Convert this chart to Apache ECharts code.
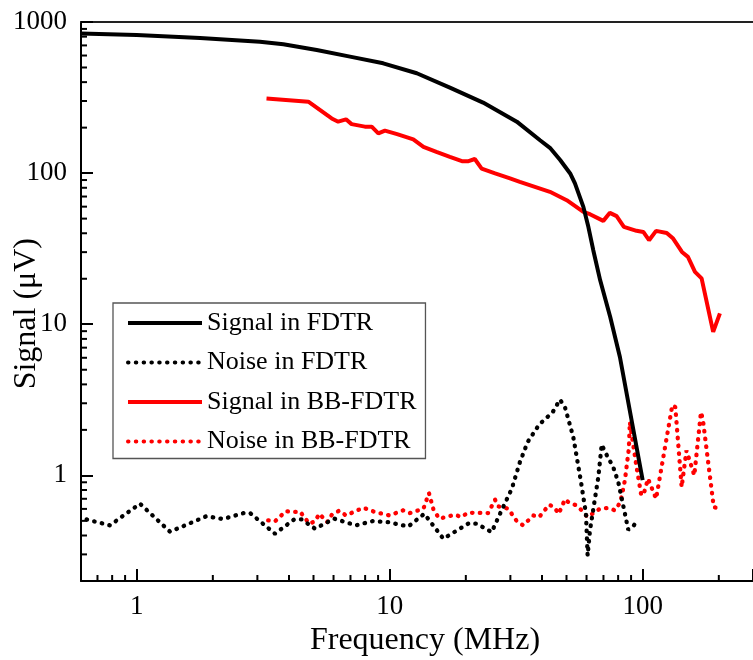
<!DOCTYPE html>
<html>
<head>
<meta charset="utf-8">
<script src="https://cdn.jsdelivr.net/npm/echarts@6/dist/echarts.min.js"></script>
<style>
  html, body { margin: 0; padding: 0; background: #fff; }
  #chart { width: 753px; height: 660px; }
</style>
</head>
<body>
<div id="chart"></div>
<script>
// FDTR signal (black solid)
var fdtrSignalFreq = [0.6, 1, 1.78, 3.07, 3.80, 5.15, 6.97, 9.43, 12.8, 17.3, 23.4, 31.8, 39.3, 43.0, 47.2, 51.7, 54.0, 58.3, 61.0, 63.8, 67.9, 74.4, 81.3, 100];
var fdtrSignal = [840, 820, 784, 741, 712, 653, 590, 533, 458, 368, 293, 219, 165, 147, 122, 99.5, 85.5, 59.8, 44.1, 30.9, 19.6, 11.2, 6.07, 0.93];

// FDTR noise (black dotted)
var fdtrNoiseFreq = [0.634, 0.784, 1.03, 1.354, 1.89, 2.19, 2.68, 2.82, 3.52, 4.19, 4.49, 5.07, 6.04, 7.36, 8.57, 9.87, 11.85, 13.7, 16.3, 20.6, 22.1, 25.3, 27.5, 30.4, 32.7, 35.1, 39.0, 44.1, 47.1, 49.3, 53.2, 56.9, 59.7, 60.6, 61.9, 66.8, 68.9, 71.0, 76.5, 80.1, 85.1, 87.7, 91.8, 95.2];
var fdtrNoise = [0.511, 0.467, 0.650, 0.424, 0.537, 0.514, 0.566, 0.560, 0.411, 0.511, 0.511, 0.444, 0.517, 0.467, 0.498, 0.490, 0.459, 0.557, 0.381, 0.483, 0.479, 0.421, 0.572, 0.816, 1.22, 1.66, 2.17, 2.62, 3.17, 2.83, 1.79, 0.93, 0.557, 0.295, 0.432, 0.974, 1.60, 1.43, 1.135, 0.903, 0.558, 0.437, 0.460, 0.504];

// BB-FDTR signal (red solid)
var bbSignalFreq = [3.26, 4.77, 5.90, 6.26, 6.72, 7.07, 7.98, 8.49, 9.02, 9.58, 10.7, 12.4, 13.6, 15.3, 17.3, 19.3, 20.5, 21.7, 23.1, 26.1, 29.9, 32.7, 43.0, 50.1, 58.3, 61.9, 69.9, 74.2, 78.9, 84.3, 94.6, 100.6, 106, 113, 124.5, 132, 143, 151, 161, 171, 190, 202];
var bbSignal = [312, 297, 230, 219, 227, 211, 203, 203, 183, 191, 181, 167, 149, 138, 128, 120, 120, 124, 107, 99.5, 92.2, 87.5, 75.2, 66.2, 55.4, 53.5, 48.3, 54.6, 51.9, 44.1, 41.5, 40.8, 36.0, 41.5, 40.2, 36.9, 30.1, 27.9, 22.2, 20.1, 8.9, 11.8];

// BB-FDTR noise (red dotted)
var bbNoiseFreq = [3.31, 3.52, 3.89, 4.16, 4.42, 4.81, 5.07, 5.27, 5.66, 5.91, 6.32, 6.72, 7.86, 8.75, 10.0, 11.3, 12.0, 13.6, 14.3, 14.9, 15.7, 18.1, 19.2, 20.4, 24.5, 26.1, 26.9, 29.4, 31.8, 33.7, 37.0, 39.0, 42.7, 44.6, 46.6, 49.3, 51.4, 54.8, 57.1, 60.6, 67.8, 73.0, 77.7, 80.9, 82.5, 85.1, 86.5, 88.2, 89.0, 94.8, 98.5, 100.6, 105, 113, 131, 134.6, 142.6, 149, 151, 160, 170, 173, 191, 201];
var bbNoise = [0.504, 0.496, 0.580, 0.572, 0.577, 0.479, 0.496, 0.557, 0.490, 0.549, 0.584, 0.543, 0.611, 0.572, 0.543, 0.587, 0.563, 0.602, 0.764, 0.593, 0.517, 0.549, 0.530, 0.566, 0.563, 0.690, 0.623, 0.602, 0.498, 0.467, 0.543, 0.530, 0.640, 0.617, 0.557, 0.694, 0.656, 0.633, 0.592, 0.530, 0.602, 0.608, 0.587, 0.649, 0.718, 0.93, 1.16, 1.50, 2.25, 1.11, 0.757, 0.737, 0.95, 0.70, 2.91, 2.83, 0.837, 1.46, 1.44, 1.0, 2.62, 2.34, 0.617, 0.602];

var seriesNames = ['Signal in FDTR', 'Noise in FDTR', 'Signal in BB-FDTR', 'Noise in BB-FDTR'];

// axis range and minor tick values
var xMin = 0.6025, xMax = 273;
var yMin = 0.2, yMax = 1000;
var xMinorTicks = [0.7, 0.8, 0.9, 2, 3, 4, 5, 6, 7, 8, 9, 20, 30, 40, 50, 60, 70, 80, 90, 200];
var yMinorTicks = [0.3, 0.4, 0.5, 0.6, 0.7, 0.8, 0.9, 2, 3, 4, 5, 6, 7, 8, 9, 20, 30, 40, 50, 60, 70, 80, 90, 200, 300, 400, 500, 600, 700, 800, 900];

function pairs(xs, ys) {
    return xs.map(function (x, i) {
        return [x, ys[i]];
    });
}

var serif = 'Liberation Serif, Times New Roman, serif';

function decadeLabel(v) {
    var l = Math.log10(v);
    return Math.abs(l - Math.round(l)) < 1e-6 ? String(Math.round(v)) : '';
}

var chart = echarts.init(document.getElementById('chart'));

chart.setOption({
    animation: false,
    backgroundColor: '#fff',
    textStyle: { fontFamily: serif },
    grid: { left: 81, right: 0, top: 22, bottom: 79, containLabel: false, outerBoundsMode: 'none' },
    legend: {
        data: seriesNames,
        orient: 'vertical',
        left: 113,
        top: 303,
        padding: [7, 9, 4, 13],
        itemGap: 13.5,
        itemWidth: 74,
        itemHeight: 1,
        borderColor: '#555',
        borderWidth: 1.3,
        selectedMode: false,
        itemStyle: { opacity: 0 },
        lineStyle: { width: 4 },
        textStyle: { fontFamily: serif, fontSize: 26, color: '#000', lineHeight: 26 }
    },
    // y axis title, placed a little below the axis middle as in the source figure
    graphic: [{
        type: 'text',
        left: 11,
        top: 238,
        rotation: Math.PI / 2,
        style: { text: 'Signal (μV)', font: '32px ' + serif, fill: '#000' }
    }],
    xAxis: [{
        type: 'log',
        logBase: 10,
        min: xMin,
        max: xMax,
        name: 'Frequency (MHz)',
        nameLocation: 'middle',
        nameGap: 39,
        nameTextStyle: { fontFamily: serif, fontSize: 32, color: '#000', padding: [0, 0, 0, 16] },
        axisLine: { lineStyle: { color: '#000', width: 2 } },
        axisTick: { inside: true, length: 12, lineStyle: { color: '#000', width: 2 } },
        axisLabel: { fontFamily: serif, fontSize: 27, color: '#000', margin: 12, formatter: decadeLabel },
        splitLine: { show: false }
    }, {
        // top frame line
        type: 'log',
        position: 'top',
        min: xMin,
        max: xMax,
        axisLine: { lineStyle: { color: '#222', width: 2 } },
        axisTick: { show: false },
        axisLabel: { show: false },
        splitLine: { show: false }
    }],
    yAxis: {
        type: 'log',
        logBase: 10,
        min: yMin,
        max: yMax,
        axisLine: { show: true, lineStyle: { color: '#000', width: 2 } },
        axisTick: { inside: true, length: 12, lineStyle: { color: '#000', width: 2 } },
        axisLabel: { fontFamily: serif, fontSize: 27, color: '#000', margin: 14, formatter: decadeLabel },
        splitLine: { show: false }
    },
    series: [{
        name: seriesNames[0],
        type: 'line',
        data: pairs(fdtrSignalFreq, fdtrSignal),
        symbol: 'none',
        showSymbol: false,
        color: '#000',
        lineStyle: { color: '#000', width: 4 },
        z: 4
    }, {
        name: seriesNames[1],
        type: 'line',
        data: pairs(fdtrNoiseFreq, fdtrNoise),
        symbol: 'none',
        showSymbol: false,
        color: '#000',
        lineStyle: { color: '#000', width: 4.3, type: [0.5, 7.3], cap: 'round' },
        z: 3
    }, {
        name: seriesNames[2],
        type: 'line',
        data: pairs(bbSignalFreq, bbSignal),
        symbol: 'none',
        showSymbol: false,
        color: '#ff0000',
        lineStyle: { color: '#ff0000', width: 4 },
        z: 3
    }, {
        name: seriesNames[3],
        type: 'line',
        data: pairs(bbNoiseFreq, bbNoise),
        symbol: 'none',
        showSymbol: false,
        color: '#ff0000',
        lineStyle: { color: '#ff0000', width: 4.3, type: [0.5, 7.3], cap: 'round' },
        z: 2
    }, {
        // minor ticks on the x axis
        type: 'custom',
        silent: true,
        data: xMinorTicks.map(function (v) { return [v, yMin]; }),
        renderItem: function (params, api) {
            var p = api.coord([api.value(0), api.value(1)]);
            return {
                type: 'line',
                shape: { x1: p[0], y1: p[1], x2: p[0], y2: p[1] - 6 },
                style: { stroke: '#000', lineWidth: 2 }
            };
        },
        z: 5
    }, {
        // minor ticks on the y axis
        type: 'custom',
        silent: true,
        data: yMinorTicks.map(function (v) { return [xMin, v]; }),
        renderItem: function (params, api) {
            var p = api.coord([api.value(0), api.value(1)]);
            return {
                type: 'line',
                shape: { x1: p[0], y1: p[1], x2: p[0] + 6, y2: p[1] },
                style: { stroke: '#000', lineWidth: 2 }
            };
        },
        z: 5
    }]
});
</script>
</body>
</html>
